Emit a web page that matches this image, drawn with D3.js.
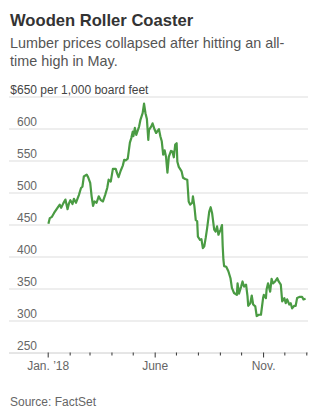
<!DOCTYPE html>
<html>
<head>
<meta charset="utf-8">
<script src="https://cdn.jsdelivr.net/npm/d3@7"></script>
<style>
  body { margin: 0; background: #fff; }
  svg { display: block; }
  text { font-family: "Liberation Sans Narrow", "Liberation Sans", sans-serif; }
</style>
</head>
<body>
<div id="chart"></div>
<script>
// lumber futures, $ per 1,000 board feet, 2018
const dates = [
  "2018-01-02", "2018-01-04", "2018-01-07", "2018-01-10", "2018-01-16", "2018-01-18", "2018-01-20",
  "2018-01-23", "2018-01-26", "2018-01-29", "2018-01-31", "2018-02-02", "2018-02-05", "2018-02-07",
  "2018-02-10", "2018-02-14", "2018-02-17", "2018-02-19", "2018-02-21", "2018-02-25", "2018-02-27",
  "2018-03-02", "2018-03-04", "2018-03-06", "2018-03-08", "2018-03-11", "2018-03-14", "2018-03-17",
  "2018-03-20", "2018-03-23", "2018-03-26", "2018-03-28", "2018-03-31", "2018-04-03", "2018-04-07",
  "2018-04-09", "2018-04-11", "2018-04-14", "2018-04-17", "2018-04-19", "2018-04-21", "2018-04-24",
  "2018-04-27", "2018-04-29", "2018-05-01", "2018-05-02", "2018-05-04", "2018-05-06", "2018-05-10",
  "2018-05-12", "2018-05-15", "2018-05-17", "2018-05-19", "2018-05-21", "2018-05-23", "2018-05-24",
  "2018-05-27", "2018-05-29", "2018-06-01", "2018-06-03", "2018-06-07", "2018-06-09", "2018-06-11",
  "2018-06-13", "2018-06-15", "2018-06-17", "2018-06-19", "2018-06-21", "2018-06-24", "2018-06-26",
  "2018-06-28", "2018-06-30", "2018-07-02", "2018-07-03", "2018-07-05", "2018-07-09", "2018-07-11",
  "2018-07-14", "2018-07-17", "2018-07-19", "2018-07-21", "2018-07-24", "2018-07-25", "2018-07-27",
  "2018-07-29", "2018-07-31", "2018-08-01", "2018-08-04", "2018-08-06", "2018-08-08", "2018-08-10",
  "2018-08-12", "2018-08-14", "2018-08-17", "2018-08-19", "2018-08-21", "2018-08-24", "2018-08-26",
  "2018-08-28", "2018-08-30", "2018-09-02", "2018-09-04", "2018-09-05", "2018-09-06", "2018-09-07",
  "2018-09-10", "2018-09-13", "2018-09-16", "2018-09-18", "2018-09-21", "2018-09-25", "2018-09-26",
  "2018-09-28", "2018-10-01", "2018-10-03", "2018-10-05", "2018-10-08", "2018-10-10", "2018-10-11",
  "2018-10-14", "2018-10-16", "2018-10-18", "2018-10-21", "2018-10-23", "2018-10-26", "2018-10-29",
  "2018-11-01", "2018-11-02", "2018-11-05", "2018-11-06", "2018-11-08", "2018-11-11", "2018-11-13",
  "2018-11-15", "2018-11-18", "2018-11-21", "2018-11-23", "2018-11-26", "2018-11-28", "2018-12-01",
  "2018-12-03", "2018-12-05", "2018-12-08", "2018-12-10", "2018-12-12", "2018-12-15", "2018-12-17",
  "2018-12-19", "2018-12-23", "2018-12-26", "2018-12-28", "2018-12-31"
];
const prices = [
  451, 460, 462, 468, 478, 481, 476,
  483, 489, 474, 483, 488, 482, 490,
  484, 496, 507, 509, 525, 528, 524,
  515, 494, 479, 486, 484, 494, 488,
  486, 496, 507, 520, 517, 537, 537,
  530, 524, 534, 542, 551, 550, 553,
  578, 585, 595, 588, 601, 590, 603,
  614, 624, 639, 624, 615, 582, 598,
  603, 608, 598, 593, 599, 588, 580,
  559, 566, 556, 531, 556, 565, 564,
  555, 575, 577, 548, 540, 533, 523,
  521, 520, 486, 481, 484, 494, 479,
  457, 455, 431, 426, 427, 413, 416,
  429, 444, 470, 477, 468, 442, 439,
  447, 434, 442, 449, 416, 395, 385,
  384, 377, 366, 351, 343, 340, 358,
  342, 353, 361, 353, 356, 338, 323,
  327, 339, 325, 322, 307, 309, 309,
  335, 340, 335, 349, 358, 345, 365,
  358, 361, 366, 361, 356, 330, 335,
  327, 333, 325, 327, 319, 323, 323,
  335, 337, 337, 333, 334
];

const yTicks = [250, 300, 350, 400, 450, 500, 550, 600, 650];
const xLabels = { "2018-01": "Jan. \u201918", "2018-06": "June", "2018-11": "Nov." };

const W = 329, H = 420;
const left = 9, right = 308;

const parse = d3.timeParse("%Y-%m-%d");
const series = dates.map((d, i) => ({ date: parse(d), value: prices[i] }));

const svg = d3.select("#chart").append("svg")
  .attr("width", W)
  .attr("height", H);

const x = d3.scaleTime()
  .domain([new Date(2018, 0, 1), new Date(2019, 0, 1)])
  .range([47.7, 306.3]);

const y = d3.scaleLinear()
  .domain([250, 650])
  .range([352.5, 96.5]);

// headline block
svg.append("text")
  .attr("x", 10).attr("y", 26)
  .attr("font-size", 16.6).attr("font-weight", "bold")
  .attr("fill", "#333")
  .text("Wooden Roller Coaster");

const sub = ["Lumber prices collapsed after hitting an all-", "time high in May."];
svg.selectAll("text.sub").data(sub).enter().append("text")
  .attr("class", "sub")
  .attr("x", 10)
  .attr("y", (d, i) => 47.5 + i * 18.5)
  .attr("font-size", 14.4)
  .attr("fill", "#555")
  .text(d => d);

// gridlines + value labels
const yAxis = d3.axisRight(y)
  .tickValues(yTicks)
  .tickSize(right - left)
  .tickFormat(d => d);

const gy = svg.append("g")
  .attr("transform", `translate(${left},0)`)
  .call(yAxis);

gy.select(".domain").remove();
gy.selectAll(".tick line").attr("stroke", d => d === 250 ? "#ccc" : "#ddd");
gy.selectAll(".tick text")
  .attr("x", 8)
  .attr("dy", -3)
  .attr("text-anchor", "start")
  .attr("font-size", 12)
  .attr("font-family", null)
  .attr("fill", "#666");

// top tick carries the unit, with the $ hanging left of the numbers
const topLabel = gy.selectAll(".tick text").filter(d => d === 650);
topLabel.text("$650 per 1,000 board feet").attr("fill", "#444");
const dollarW = (() => {
  const t = svg.append("text").attr("font-size", 12).text("$");
  const w = t.node().getComputedTextLength();
  t.remove();
  return w;
})();
topLabel.attr("x", 8 - dollarW);

// month ticks along the bottom
const xAxis = d3.axisBottom(x)
  .ticks(d3.timeMonth.every(1))
  .tickSize(3)
  .tickFormat(d => xLabels[d3.timeFormat("%Y-%m")(d)] || "");

const gx = svg.append("g")
  .attr("transform", `translate(0,${y(250)})`)
  .call(xAxis);

gx.select(".domain").remove();
gx.selectAll(".tick line")
  .attr("stroke", "#333")
  .attr("y2", d => xLabels[d3.timeFormat("%Y-%m")(d)] ? 5 : 3);
gx.selectAll(".tick text")
  .attr("y", 17)
  .attr("dy", 0)
  .attr("font-size", 12)
  .attr("font-family", null)
  .attr("fill", "#666");

// price line
const line = d3.line()
  .x(d => x(d.date))
  .y(d => y(d.value))
  .curve(d3.curveLinear);

svg.append("path")
  .datum(series)
  .attr("d", line)
  .attr("fill", "none")
  .attr("stroke", "#4a9b43")
  .attr("stroke-width", 2.2)
  .attr("stroke-linejoin", "round");

svg.append("text")
  .attr("x", 10).attr("y", 406)
  .attr("font-size", 12)
  .attr("fill", "#666")
  .text("Source: FactSet");
</script>
</body>
</html>
